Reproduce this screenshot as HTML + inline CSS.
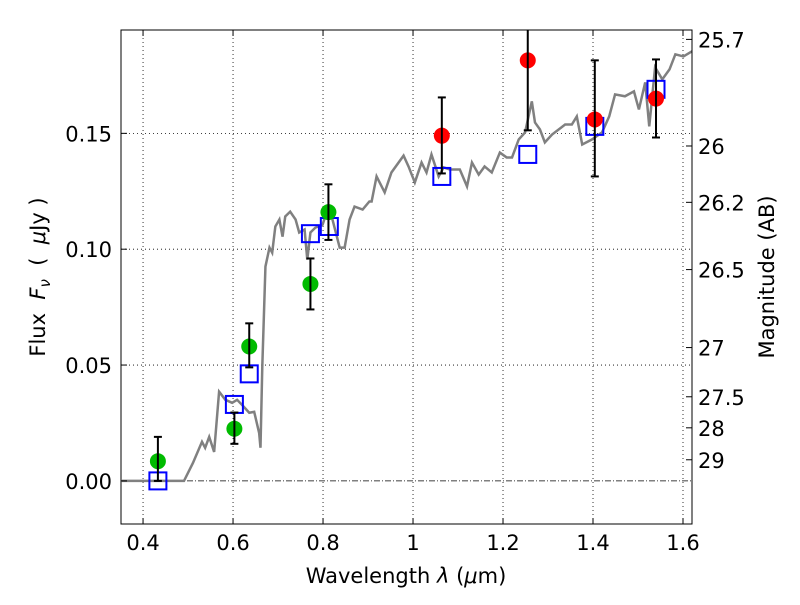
<!DOCTYPE html>
<html><head><meta charset="utf-8"><style>
body{margin:0;background:#fff}
svg text{font-family:"DejaVu Sans","Liberation Sans",sans-serif;fill:#000}
</style></head><body>
<svg id="chart" width="800" height="600"></svg>
<script>
const specLam=[0.353,0.491,0.511,0.531,0.538,0.547,0.558,0.569,0.583,0.598,0.609,0.620,0.636,0.647,0.658,0.661,0.665,0.672,0.681,0.687,0.694,0.703,0.710,0.716,0.727,0.739,0.747,0.759,0.765,0.772,0.783,0.799,0.810,0.821,0.837,0.848,0.859,0.870,0.888,0.903,0.908,0.919,0.937,0.952,0.979,0.990,1.004,1.019,1.030,1.041,1.057,1.068,1.082,1.104,1.120,1.131,1.146,1.159,1.175,1.193,1.208,1.220,1.235,1.249,1.264,1.271,1.282,1.293,1.309,1.324,1.338,1.353,1.364,1.376,1.398,1.420,1.436,1.449,1.471,1.491,1.502,1.516,1.525,1.538,1.554,1.570,1.583,1.601,1.628];
const specFlux=[0,0,0.0078,0.0169,0.0143,0.0190,0.0125,0.0385,0.0350,0.0337,0.0350,0.0328,0.0294,0.0298,0.0207,0.0143,0.0493,0.0925,0.1007,0.0985,0.1098,0.1128,0.1054,0.1141,0.1162,0.1128,0.1072,0.1085,0.0955,0.1072,0.1093,0.1106,0.1171,0.1128,0.1007,0.1007,0.1128,0.1184,0.1171,0.1206,0.1206,0.1314,0.1245,0.1331,0.1404,0.1357,0.1288,0.1374,0.1331,0.1409,0.1314,0.1353,0.1344,0.1344,0.1271,0.1374,0.1322,0.1357,0.1331,0.1417,0.1396,0.1396,0.1474,0.1504,0.1638,0.1547,0.1517,0.1461,0.1495,0.1517,0.1538,0.1538,0.1573,0.1452,0.1474,0.1504,0.1573,0.1668,0.1660,0.1681,0.1603,0.1720,0.1530,0.1785,0.1733,0.1776,0.1841,0.1832,0.1863];
const greenLam=[0.433,0.603,0.636,0.772,0.812];
const greenFlux=[0.0085,0.0225,0.058,0.085,0.116];
const greenLo=[0,0.016,0.049,0.074,0.104];
const greenHi=[0.019,0.0295,0.068,0.096,0.128];
const redLam=[1.064,1.255,1.404,1.540];
const redFlux=[0.149,0.1815,0.156,0.165];
const redLo=[0.1327,0.1513,0.1314,0.1482];
const redHi=[0.1655,0.215,0.1815,0.1819];
const blueLam=[0.433,0.603,0.636,0.772,0.814,1.064,1.255,1.404,1.540];
const blueFlux=[0,0.033,0.0462,0.1067,0.1098,0.1314,0.1409,0.1530,0.169];
const xTicks=[0.4,0.6,0.8,1.0,1.2,1.4,1.6];
const xTickLabels=["0.4","0.6","0.8","1","1.2","1.4","1.6"];
const yTicks=[0,0.05,0.10,0.15];
const yTickLabels=["0.00","0.05","0.10","0.15"];
const magTicks=[25.7,26,26.2,26.5,27,27.5,28,29];

const L=121,R=692,T=30,B=524;
const xmin=0.351,xmax=1.62,ymin=-0.0186,ymax=0.1946;
const X=v=>L+(v-xmin)/(xmax-xmin)*(R-L);
const Y=v=>B-(v-ymin)/(ymax-ymin)*(B-T);
const ns="http://www.w3.org/2000/svg";
const svg=document.getElementById('chart');
function mk(tag,attrs,parent){const e=document.createElementNS(ns,tag);for(const k in attrs)e.setAttribute(k,attrs[k]);(parent||svg).appendChild(e);return e;}
const defs=mk('defs',{});const cp=mk('clipPath',{id:'clip'},defs);mk('rect',{x:L,y:T,width:R-L,height:B-T},cp);
const plot=mk('g',{'clip-path':'url(#clip)'});
xTicks.forEach(v=>{const g=mk('line',{x1:X(v),x2:X(v),y1:T,y2:B,stroke:'#000','stroke-width':0.8,'stroke-dasharray':'1,3'},plot);

});
yTicks.forEach(v=>{const g=mk('line',{x1:L,x2:R,y1:Y(v),y2:Y(v),stroke:'#000','stroke-width':0.8,'stroke-dasharray':v===0?'6,2,1,2':'1,3'},plot);

});
const sp=mk('polyline',{points:specLam.map((l,i)=>X(l)+','+Y(specFlux[i])).join(' '),fill:'none',stroke:'#808080','stroke-width':2.5},plot);


function ebar(lam,lo,hi,name){const g=mk('g',{},plot);


mk('line',{x1:X(lam),x2:X(lam),y1:Y(lo),y2:Y(hi),stroke:'#000','stroke-width':2},g);
[lo,hi].forEach(v=>mk('line',{x1:X(lam)-4,x2:X(lam)+4,y1:Y(v),y2:Y(v),stroke:'#000','stroke-width':2},g));}
blueLam.forEach((l,i)=>{const r=mk('rect',{x:X(l)-8.5,y:Y(blueFlux[i])-8.5,width:17,height:17,fill:'none',stroke:'#0000ff','stroke-width':2},plot);

});
greenLam.forEach((l,i)=>{const c=mk('circle',{cx:X(l),cy:Y(greenFlux[i]),r:8,fill:'#00bb00'},plot);


ebar(l,greenLo[i],greenHi[i],'green-error-bar');});
redLam.forEach((l,i)=>{const c=mk('circle',{cx:X(l),cy:Y(redFlux[i]),r:8,fill:'#ff0000'},plot);


ebar(l,redLo[i],redHi[i],'red-error-bar');});
const fr=mk('rect',{x:L,y:T,width:R-L,height:B-T,fill:'none',stroke:'#000','stroke-width':1});


xTicks.forEach((v,i)=>{mk('line',{x1:X(v),x2:X(v),y1:B,y2:B-6,stroke:'#000'});mk('line',{x1:X(v),x2:X(v),y1:T,y2:T+6,stroke:'#000'});
const t=mk('text',{x:X(v),y:B+26,'text-anchor':'middle','font-size':21});t.textContent=xTickLabels[i];

});
yTicks.forEach((v,i)=>{mk('line',{x1:L,x2:L+6,y1:Y(v),y2:Y(v),stroke:'#000'});
const t=mk('text',{x:L-9,y:Y(v)+8,'text-anchor':'end','font-size':21});t.textContent=yTickLabels[i];

});
magTicks.forEach(m=>{const f=Math.pow(10,(23.9-m)/2.5);mk('line',{x1:R,x2:R-6,y1:Y(f),y2:Y(f),stroke:'#000'});
const t=mk('text',{x:R+6,y:Y(f)+8,'font-size':21});t.textContent=String(m);

});
</script>
<svg width="800" height="600" style="position:absolute;left:0;top:0">
<text x="406" y="583" text-anchor="middle" font-size="21" font-family="DejaVu Sans, Liberation Sans, sans-serif">Wavelength  <tspan font-style="italic">λ</tspan> (<tspan font-style="italic">μ</tspan>m)</text>
<text transform="translate(45,277) rotate(-90)" text-anchor="middle" font-size="21" font-family="DejaVu Sans, Liberation Sans, sans-serif" xml:space="preserve">Flux  <tspan font-style="italic">F</tspan><tspan font-style="italic" font-size="15" dy="5">ν</tspan><tspan dy="-5">  (  </tspan><tspan font-style="italic">μ</tspan>Jy )</text>
<text transform="translate(774,277) rotate(-90)" text-anchor="middle" font-size="21" font-family="DejaVu Sans, Liberation Sans, sans-serif">Magnitude (AB)</text>
</svg>
</body></html>
